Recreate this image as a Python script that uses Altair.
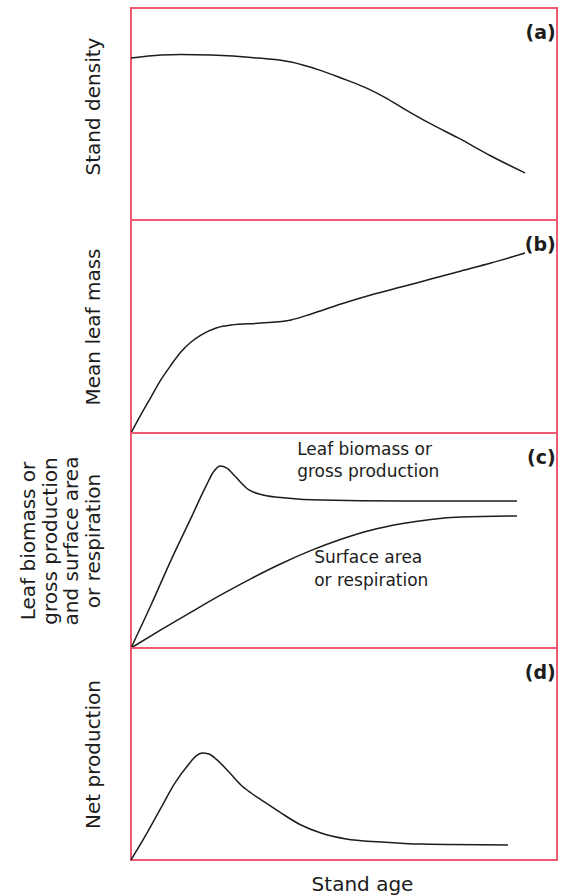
import altair as alt
import pandas as pd

FONT = "DejaVu Sans"
FRAME = "#ee5a72"
INK = "#1c1c1c"

# (a) stand density against stand age
age_a = [0, 7.0, 11.7, 18.8, 28.2, 37.6, 44.1, 49.3, 55.2, 59.9, 63.8, 70.4, 76.8, 84.5, 92.5]
density = [76.4, 77.8, 78.1, 77.8, 76.7, 74.5, 70.8, 67.0, 62.3, 57.5, 52.8, 45.3, 38.7, 30.2, 22.2]

# (b) mean leaf mass
age_b = [0, 2.3, 4.7, 7.0, 9.4, 11.7, 14.1, 16.4, 20.0, 23.5, 30.5, 37.6, 42.3, 49.3, 56.3,
         63.4, 70.4, 77.5, 84.5, 92.5]
leaf_mass = [0, 8.5, 16.9, 24.9, 31.9, 38.0, 42.7, 46.0, 49.3, 50.7, 51.6, 53.1, 55.9, 60.6,
             64.8, 68.5, 72.3, 76.1, 79.8, 84.5]

# (c) leaf biomass / gross production and surface area / respiration
age_c_gross = [0, 4.7, 9.4, 14.1, 17.6, 19.5, 20.9, 22.5, 24.6, 27.7, 31.0, 36.4, 44.6, 63.4, 90.6]
gross = [0, 20.0, 40.9, 60.5, 75.3, 82.3, 84.7, 83.7, 79.5, 73.5, 71.2, 69.8, 68.8, 68.4, 68.4]
age_c_resp = [0, 7.0, 14.1, 21.1, 28.2, 35.2, 42.3, 49.3, 56.3, 63.4, 70.4, 77.5, 90.6]
respiration = [0, 8.4, 16.7, 24.7, 32.3, 39.2, 45.4, 50.6, 54.8, 57.8, 59.8, 60.9, 61.4]

# (d) net production
age_d = [0, 3.5, 7.0, 10.3, 13.6, 15.3, 16.7, 18.3, 20.2, 23.0, 25.8, 28.2, 31.0, 35.2, 39.9,
         44.6, 50.5, 58.7, 68.1, 88.5]
net = [0, 11.8, 24.5, 36.3, 45.3, 49.1, 50.5, 50.0, 47.2, 41.5, 35.4, 31.6, 27.8, 22.2, 16.5,
       12.7, 9.9, 8.5, 7.5, 7.1]

# curve annotations in panel (c)
note_text = ["Leaf biomass or", "gross production", "Surface area", "or respiration"]
note_age = [39.0, 39.0, 43.0, 43.0]
note_value = [89.8, 79.5, 39.5, 28.8]

panel_letters = ["(a)", "(b)", "(c)", "(d)"]
panel_titles = [
    "Stand density",
    "Mean leaf mass",
    ["Leaf biomass or", "gross production", "and surface area", "or respiration"],
    "Net production",
]
panel_heights = [212, 213, 215, 212]
PANEL_W = 426


def x_enc(show_title):
    if show_title:
        axis = alt.Axis(title="Stand age", labels=False, ticks=False, domain=False, grid=False,
                        titleFont=FONT, titleFontSize=20, titleFontWeight="normal",
                        titleColor=INK, titlePadding=14, titleX=231, titleAlign="center")
    else:
        axis = None
    return alt.X("age:Q", scale=alt.Scale(domain=[0, 100], nice=False, zero=False), axis=axis)


def y_enc(title, title_y=None):
    kw = dict(title=title, labels=False, ticks=False, domain=False, grid=False,
              titleFont=FONT, titleFontSize=20, titleFontWeight="normal", titleColor=INK,
              titlePadding=28, titleLineHeight=21.5)
    if title_y is not None:
        kw["titleY"] = title_y
    return alt.Y("value:Q", scale=alt.Scale(domain=[0, 100], nice=False, zero=False),
                 axis=alt.Axis(**kw))


def panel(curves, idx, show_x=False, title_y=None, notes=None):
    x = x_enc(show_x)
    y = y_enc(panel_titles[idx], title_y)
    lines = alt.Chart(curves).mark_line(
        color=INK, strokeWidth=1.5, interpolate="monotone"
    ).encode(x=x, y=y, detail="series:N")
    letter = alt.Chart(pd.DataFrame({"age": [99.7], "value": [85.5],
                                     "label": [panel_letters[idx]]})).mark_text(
        font=FONT, fontSize=19, fontWeight="bold", color=INK, align="right",
        baseline="alphabetic"
    ).encode(x=x, y=y, text="label:N")
    layers = [lines, letter]
    if notes is not None:
        layers.append(alt.Chart(notes).mark_text(
            font=FONT, fontSize=17, color=INK, align="left", baseline="alphabetic"
        ).encode(x=x, y=y, text="label:N"))
    return alt.layer(*layers).properties(width=PANEL_W, height=panel_heights[idx])


df_a = pd.DataFrame({"age": age_a, "value": density, "series": "density"})
df_b = pd.DataFrame({"age": age_b, "value": leaf_mass, "series": "leaf mass"})
df_c = pd.concat([
    pd.DataFrame({"age": age_c_gross, "value": gross, "series": "gross"}),
    pd.DataFrame({"age": age_c_resp, "value": respiration, "series": "respiration"}),
])
df_d = pd.DataFrame({"age": age_d, "value": net, "series": "net"})
notes_c = pd.DataFrame({"age": note_age, "value": note_value, "label": note_text})

# panels are stacked edge to edge: only the plot areas count for the layout
chart = alt.vconcat(
    panel(df_a, 0, title_y=98),
    panel(df_b, 1),
    panel(df_c, 2, notes=notes_c),
    panel(df_d, 3, show_x=True),
    spacing=0,
    bounds="flush",
).properties(
    padding={"left": 17, "top": 7, "right": 0, "bottom": 0},
    background="white",
).configure_view(
    stroke=FRAME, strokeWidth=2
)

chart.save("out.html", embed_options={"renderer": "svg", "actions": False})
